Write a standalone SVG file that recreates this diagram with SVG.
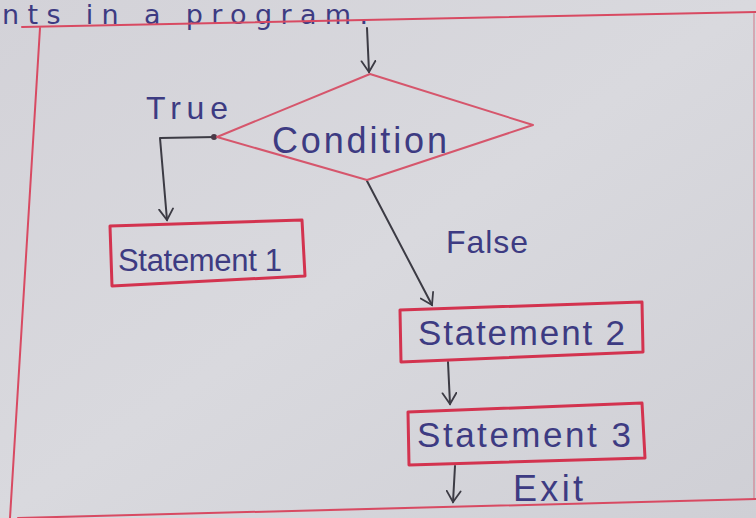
<svg xmlns="http://www.w3.org/2000/svg" width="756" height="518" viewBox="0 0 756 518">
  <defs>
    <linearGradient id="paper" x1="0" y1="0" x2="1" y2="1">
      <stop offset="0" stop-color="#d3d2d8"/>
      <stop offset="0.5" stop-color="#d9d9de"/>
      <stop offset="1" stop-color="#cfcfd5"/>
    </linearGradient>
    <marker id="head" markerWidth="14" markerHeight="16" refX="12" refY="8" orient="auto" markerUnits="userSpaceOnUse">
      <path d="M1,1 L12,8 L1,15" fill="none" stroke="#3c3b44" stroke-width="1.8" stroke-linecap="round"/>
    </marker>
    <style>
      .frame { fill: none; stroke: #d84a62; stroke-width: 2; stroke-linecap: round; }
      .box { fill: none; stroke: #d3334f; stroke-width: 3; stroke-linejoin: round; }
      .diamond { fill: none; stroke: #d6566c; stroke-width: 2; stroke-linejoin: round; }
      .edge { fill: none; stroke: #3c3b44; stroke-width: 2; stroke-linecap: round; stroke-linejoin: round; marker-end: url(#head); }
      .ink { font-family: "Liberation Sans", "DejaVu Sans", sans-serif; fill: #3d3b82; }
      .heading { font-family: "DejaVu Sans", sans-serif; }
    </style>
  </defs>

  <!-- paper -->
  <rect x="0" y="0" width="756" height="518" fill="url(#paper)"/>

  <!-- line of text above the frame -->
  <text class="ink heading" x="2" y="24" font-size="27" textLength="366" lengthAdjust="spacing">nts in a program.</text>

  <!-- ruled frame -->
  <g id="frame">
    <path class="frame" d="M22,27 L756,12"/>
    <path class="frame" d="M40,28 L10,518"/>
    <path class="frame" d="M18,518 L756,499"/>
    <path class="frame" d="M754,14 L754,499" stroke-opacity="0.35"/>
  </g>

  <!-- connectors -->
  <g id="connectors">
    <path class="edge" d="M367,28 L369,72"/>
    <path class="edge" d="M216,137 L160,138 L167,220"/>
    <path class="edge" d="M367,181 L432,305"/>
    <path class="edge" d="M448,362 L450,404"/>
    <path class="edge" d="M455,466 L453,502"/>
    <circle cx="214" cy="137" r="3" fill="#4a3a48"/>
  </g>

  <g id="label-true">
    <text class="ink" x="146" y="119" font-size="32" textLength="82" lengthAdjust="spacing">True</text>
  </g>
  <g id="label-false">
    <text class="ink" x="446" y="253" font-size="32" textLength="82" lengthAdjust="spacing">False</text>
  </g>
  <g id="label-exit">
    <text class="ink" x="513" y="501" font-size="36" textLength="70" lengthAdjust="spacing">Exit</text>
  </g>

  <g id="condition">
    <polygon class="diamond" points="370,74 533,125 367,180 217,137"/>
    <text class="ink" x="272" y="153" font-size="36" textLength="175" lengthAdjust="spacing">Condition</text>
  </g>

  <g id="statement1">
    <polygon class="box" points="110,226 302,220 305,276 112,286"/>
    <text class="ink" x="118" y="271" font-size="31" textLength="164" lengthAdjust="spacing">Statement 1</text>
  </g>

  <g id="statement2">
    <polygon class="box" points="400,310 642,302 643,352 401,362"/>
    <text class="ink" x="418" y="345" font-size="35" textLength="207" lengthAdjust="spacing">Statement 2</text>
  </g>

  <g id="statement3">
    <polygon class="box" points="408,412 642,403 645,458 409,465"/>
    <text class="ink" x="417" y="447" font-size="35" textLength="214" lengthAdjust="spacing">Statement 3</text>
  </g>
</svg>
